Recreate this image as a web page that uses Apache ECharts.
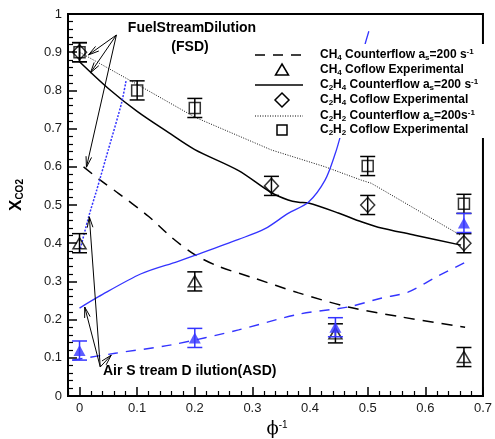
<!DOCTYPE html>
<html><head><meta charset="utf-8">
<script src="https://cdn.jsdelivr.net/npm/echarts@6/dist/echarts.min.js"></script>
<style>html,body{margin:0;padding:0;background:#fff}#c{width:495px;height:439px}</style>
</head><body><div id="c"></div>
<script>
// ---- tick labels ----
const xTickValues = [0, 0.1, 0.2, 0.3, 0.4, 0.5, 0.6, 0.7];
const xMinorValues = [-0.02,0.02,0.04,0.06,0.08,0.12,0.14,0.16,0.18,0.22,0.24,0.26,0.28,0.32,0.34,0.36,0.38,0.42,0.44,0.46,0.48,0.52,0.54,0.56,0.58,0.62,0.64,0.66,0.68];

// ---- experimental points (FSD, black) ----
const ch4ExpX = [0, 0.2, 0.444, 0.667];
const ch4ExpY = [0.40, 0.30, 0.164, 0.102];
const c2h4ExpX = [0, 0.333, 0.5, 0.667];
const c2h4ExpY = [0.90, 0.55, 0.50, 0.40];
const c2h2ExpX = [0, 0.1, 0.2, 0.5, 0.667];
const c2h2ExpY = [0.90, 0.80, 0.754, 0.602, 0.503];
// ---- experimental points (ASD, blue filled triangles) ----
const asdExpX = [0, 0.2, 0.444, 0.667];
const asdExpY = [0.119, 0.152, 0.18, 0.453];
const expErr = 0.025;

// ---- counterflow model curves (FSD, black) ----
const ch4CfX = [0.007, 0.036, 0.068, 0.12, 0.16, 0.2, 0.24, 0.3, 0.38, 0.466, 0.558, 0.669];
const ch4CfY = [0.60, 0.565, 0.53, 0.47, 0.415, 0.37, 0.34, 0.31, 0.27, 0.233, 0.207, 0.18];
const c2h4CfX = [0, 0.05, 0.1, 0.154, 0.2, 0.276, 0.331, 0.362, 0.38, 0.397, 0.449, 0.489, 0.518, 0.582, 0.662];
const c2h4CfY = [0.875, 0.805, 0.745, 0.69, 0.645, 0.59, 0.534, 0.513, 0.507, 0.505, 0.479, 0.456, 0.442, 0.421, 0.395];
const c2h2CfX = [0, 0.102, 0.2, 0.333, 0.426, 0.489, 0.506, 0.662];
const c2h2CfY = [0.90, 0.814, 0.73, 0.644, 0.60, 0.565, 0.557, 0.42];
// ---- counterflow model curves (ASD, blue) ----
const ch4AsdX = [-0.012, 0.062, 0.16, 0.276, 0.38, 0.466, 0.523, 0.57, 0.617, 0.669];
const ch4AsdY = [0.094, 0.112, 0.134, 0.173, 0.214, 0.233, 0.256, 0.272, 0.31, 0.35];
const c2h4AsdX = [0, 0.033, 0.107, 0.17, 0.2, 0.276, 0.322, 0.362, 0.397, 0.426, 0.444, 0.454, 0.47, 0.485, 0.496, 0.502];
const c2h4AsdY = [0.23, 0.26, 0.32, 0.352, 0.368, 0.41, 0.438, 0.478, 0.507, 0.565, 0.636, 0.688, 0.78, 0.86, 0.924, 0.955];
const c2h2AsdX = [0, 0.016, 0.03, 0.05, 0.073, 0.081];
const c2h2AsdY = [0.377, 0.47, 0.54, 0.645, 0.767, 0.827];

// ---- annotation arrows: tail x, tail y, head x, head y (data units) ----
const fsdArrows = [[0.064, 0.945, 0.0156, 0.893], [0.064, 0.945, 0.019, 0.846], [0.064, 0.945, 0.012, 0.599]];
const asdArrows = [[0.036, 0.076, 0.017, 0.469], [0.036, 0.076, 0.009, 0.233], [0.036, 0.076, 0.055, 0.107]];

const BLUE = '#3434ff';
const FONT = 'Liberation Sans, Arial, Helvetica, sans-serif';

const zip = (xs, ys) => xs.map((x, i) => [x, ys[i]]);
const zipErr = (xs, ys) => xs.map((x, i) => [x, ys[i], expErr]);

function errRender(color) {
  return function (params, api) {
    const x = api.value(0), y = api.value(1), e = api.value(2);
    const t = api.coord([x, y + e]), b = api.coord([x, y - e]);
    const hw = 7.5, st = { stroke: color, lineWidth: 1.5 };
    return { type: 'group', children: [
      { type: 'line', shape: { x1: t[0], y1: t[1], x2: b[0], y2: b[1] }, style: st },
      { type: 'line', shape: { x1: t[0] - hw, y1: t[1], x2: t[0] + hw, y2: t[1] }, style: st },
      { type: 'line', shape: { x1: b[0] - hw, y1: b[1], x2: b[0] + hw, y2: b[1] }, style: st }
    ]};
  };
}
function arrowRender(params, api) {
  const p1 = api.coord([api.value(0), api.value(1)]);
  const p2 = api.coord([api.value(2), api.value(3)]);
  const ang = Math.atan2(p2[1] - p1[1], p2[0] - p1[0]);
  const L = 11, a = 0.26;
  const h1 = [p2[0] - L * Math.cos(ang - a), p2[1] - L * Math.sin(ang - a)];
  const h2 = [p2[0] - L * Math.cos(ang + a), p2[1] - L * Math.sin(ang + a)];
  const st = { stroke: '#000', lineWidth: 1, fill: null };
  return { type: 'group', children: [
    { type: 'line', shape: { x1: p1[0], y1: p1[1], x2: p2[0], y2: p2[1] }, style: st },
    { type: 'polyline', shape: { points: [h1, p2, h2] }, style: st }
  ]};
}

const lineSeries = (name, xs, ys, color, type, width, smooth) => ({
  name, type: 'line', data: zip(xs, ys), symbol: 'none', smooth: smooth,
  lineStyle: { color, type, width }, z: 2, silent: true, animation: false
});

const chart = echarts.init(document.getElementById('c'), null, { renderer: 'canvas' });

const legendRows = [
  { y: 55, kind: 'line', dash: [10, 8], text: '{n|CH}{sub|4}{n| Counterflow a}{sub|s}{n|=200 s}{sup|-1}' },
  { y: 70, kind: 'triangle', text: '{n|CH}{sub|4}{n| Coflow Experimental}' },
  { y: 85, kind: 'line', dash: null, text: '{n|C}{sub|2}{n|H}{sub|4}{n| Counterflow a}{sub|s}{n|=200 s}{sup|-1}' },
  { y: 100, kind: 'diamond', text: '{n|C}{sub|2}{n|H}{sub|4}{n| Coflow Experimental}' },
  { y: 116, kind: 'line', dash: [1, 1.5], text: '{n|C}{sub|2}{n|H}{sub|2}{n| Counterflow a}{sub|s}{n|=200s}{sup|-1}' },
  { y: 130, kind: 'square', text: '{n|C}{sub|2}{n|H}{sub|2}{n| Coflow Experimental}' }
];
const rich = {
  n: { fontSize: 12, fontWeight: 'bold', fontFamily: FONT, lineHeight: 14, fill: '#000' },
  sub: { fontSize: 8, fontWeight: 'bold', fontFamily: FONT, lineHeight: 6, verticalAlign: 'bottom', fill: '#000' },
  sup: { fontSize: 8, fontWeight: 'bold', fontFamily: FONT, lineHeight: 6, verticalAlign: 'top', fill: '#000' }
};
const legendEls = [{ type: 'rect', shape: { x: 250, y: 44, width: 234, height: 94 }, style: { fill: '#fff' }, z: 50, silent: true }];
legendRows.forEach(r => {
  if (r.kind === 'line') {
    legendEls.push({ type: 'line', z: 60, shape: { x1: 255, y1: r.y, x2: 303, y2: r.y },
      style: { stroke: '#000', lineWidth: r.dash && r.dash[0] < 2 ? 1 : 1.5, lineDash: r.dash } });
  } else if (r.kind === 'triangle') {
    legendEls.push({ type: 'polygon', z: 60, shape: { points: [[282, r.y - 6], [288.5, r.y + 5], [275.5, r.y + 5]] }, style: { fill: null, stroke: '#000', lineWidth: 1.5 } });
  } else if (r.kind === 'diamond') {
    legendEls.push({ type: 'polygon', z: 60, shape: { points: [[282, r.y - 7], [289, r.y], [282, r.y + 7], [275, r.y]] }, style: { fill: null, stroke: '#000', lineWidth: 1.5 } });
  } else {
    legendEls.push({ type: 'rect', z: 60, shape: { x: 277, y: r.y - 5, width: 10, height: 10 }, style: { fill: null, stroke: '#000', lineWidth: 1.5 } });
  }
  legendEls.push({ type: 'text', z: 60, x: 320, y: r.y, style: { text: r.text, rich, verticalAlign: 'middle', align: 'left' } });
});

const option = {
  animation: false,
  backgroundColor: '#fff',
  grid: { left: 68, right: 10, top: 14, bottom: 43, show: true, borderColor: '#000', borderWidth: 2, backgroundColor: 'transparent' },
  xAxis: [
    { type: 'value', min: -0.02, max: 0.7, position: 'bottom',
      axisLine: { show: true, onZero: false, lineStyle: { color: '#000', width: 2 } },
      axisTick: { show: true, inside: true, length: 9, customValues: xTickValues, lineStyle: { color: '#000', width: 1.5 } },
      axisLabel: { show: true, customValues: xTickValues, margin: 6, color: '#1a1a1a', fontSize: 13, fontFamily: FONT,
        formatter: v => (Math.abs(v) < 1e-9 ? '0' : (+v).toFixed(1)) },
      splitLine: { show: false } },
    { type: 'value', min: -0.02, max: 0.7, position: 'bottom', gridIndex: 0,
      axisLine: { show: false },
      axisTick: { show: true, inside: true, length: 5, customValues: xMinorValues, lineStyle: { color: '#000', width: 1.2 } },
      axisLabel: { show: false }, splitLine: { show: false } }
  ],
  yAxis: {
    type: 'value', min: 0, max: 1, interval: 0.1,
    axisLine: { show: true, onZero: false, lineStyle: { color: '#000', width: 2 } },
    axisTick: { show: true, inside: true, length: 9, lineStyle: { color: '#000', width: 1.5 } },
    minorTick: { show: true, splitNumber: 5, length: 5, lineStyle: { color: '#000', width: 1.2 } },
    axisLabel: { margin: 6, color: '#1a1a1a', fontSize: 13, fontFamily: FONT,
      formatter: v => (v === 0 ? '0' : v === 1 ? '1' : (+v).toFixed(1)) },
    splitLine: { show: false }
  },
  graphic: [
    ...legendEls,
    { type: 'text', z: 60, x: 192, y: 28, style: { text: 'FuelStreamDilution', font: 'bold 14px ' + FONT, fill: '#000', align: 'center', verticalAlign: 'middle' } },
    { type: 'text', z: 60, x: 190, y: 47, style: { text: '(FSD)', font: 'bold 14px ' + FONT, fill: '#000', align: 'center', verticalAlign: 'middle' } },
    { type: 'text', z: 60, x: 103, y: 371, style: { text: 'Air S tream D ilution(ASD)', font: 'bold 14px ' + FONT, fill: '#000', align: 'left', verticalAlign: 'middle' } },
    { type: 'text', z: 60, x: 16, y: 195, rotation: Math.PI / 2,
      style: { text: '{x|X}{sub|CO2}', align: 'center', verticalAlign: 'middle',
        rich: { x: { fontSize: 17, fontWeight: 'bold', fontFamily: FONT, lineHeight: 18, fill: '#000' },
                sub: { fontSize: 10, fontWeight: 'bold', fontFamily: FONT, lineHeight: 8, verticalAlign: 'bottom', fill: '#000' } } } },
    { type: 'text', z: 60, x: 277, y: 429,
      style: { text: '{p|ϕ}{sup|-1}', align: 'center', verticalAlign: 'middle',
        rich: { p: { fontSize: 18, fontFamily: 'DejaVu Serif, serif', lineHeight: 18, fill: '#000' },
                sup: { fontSize: 10, fontFamily: FONT, lineHeight: 8, verticalAlign: 'top', fill: '#000' } } } }
  ],
  series: [
    lineSeries('CH4 Counterflow', ch4CfX, ch4CfY, '#000', [11, 8], 1.5, 0.3),
    lineSeries('C2H4 Counterflow', c2h4CfX, c2h4CfY, '#000', 'solid', 1.5, 0.3),
    lineSeries('C2H2 Counterflow', c2h2CfX, c2h2CfY, '#111', [1, 1.5], 1, false),
    lineSeries('CH4 ASD', ch4AsdX, ch4AsdY, BLUE, [10, 8], 1.4, 0.3),
    lineSeries('C2H4 ASD', c2h4AsdX, c2h4AsdY, BLUE, 'solid', 1.3, 0.3),
    lineSeries('C2H2 ASD', c2h2AsdX, c2h2AsdY, BLUE, [2, 1.5], 1.5, 0.2),
    { type: 'custom', name: 'arrowsFSD', renderItem: arrowRender, data: fsdArrows, z: 4, silent: true },
    { type: 'custom', name: 'arrowsASD', renderItem: arrowRender, data: asdArrows, z: 4, silent: true },
    { type: 'custom', name: 'errCH4', renderItem: errRender('#000'), data: zipErr(ch4ExpX, ch4ExpY), z: 3, silent: true },
    { type: 'custom', name: 'errC2H4', renderItem: errRender('#000'), data: zipErr(c2h4ExpX, c2h4ExpY), z: 3, silent: true },
    { type: 'custom', name: 'errC2H2', renderItem: errRender('#000'), data: zipErr(c2h2ExpX, c2h2ExpY), z: 3, silent: true },
    { type: 'scatter', name: 'CH4 Coflow Experimental', data: zip(ch4ExpX, ch4ExpY), symbol: 'triangle', symbolSize: [13, 11],
      itemStyle: { color: 'rgba(0,0,0,0)', borderColor: '#000', borderWidth: 1.5 }, z: 3, silent: true },
    { type: 'scatter', name: 'C2H4 Coflow Experimental', data: zip(c2h4ExpX, c2h4ExpY), symbol: 'diamond', symbolSize: [14, 15],
      itemStyle: { color: 'rgba(0,0,0,0)', borderColor: '#000', borderWidth: 1.5 }, z: 3, silent: true },
    { type: 'scatter', name: 'C2H2 Coflow Experimental', data: zip(c2h2ExpX, c2h2ExpY), symbol: 'rect', symbolSize: 11,
      itemStyle: { color: 'rgba(0,0,0,0)', borderColor: '#000', borderWidth: 1.5 }, z: 3, silent: true },
    { type: 'custom', name: 'errASD', renderItem: errRender(BLUE), data: zipErr(asdExpX, asdExpY), z: 5, silent: true },
    { type: 'scatter', name: 'ASD Coflow Experimental', data: zip(asdExpX, asdExpY), symbol: 'triangle', symbolSize: [12, 11],
      itemStyle: { color: BLUE }, z: 5, silent: true }
  ]
};
chart.setOption(option);
</script>
</body></html>
